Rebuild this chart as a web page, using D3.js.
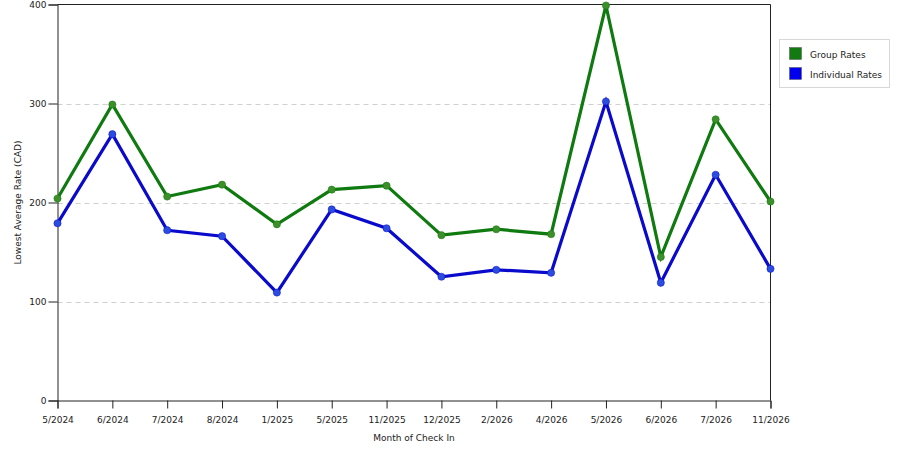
<!DOCTYPE html>
<html><head><meta charset="utf-8">
<script src="https://cdn.jsdelivr.net/npm/d3@7"></script>
<style>
body{margin:0;background:#fff;}
svg{display:block;font-family:"DejaVu Sans",Verdana,sans-serif;}
</style></head>
<body><svg id="c" width="900" height="450"></svg>
<script>
const categories = ["5/2024","6/2024","7/2024","8/2024","1/2025","5/2025","11/2025","12/2025","2/2026","4/2026","5/2026","6/2026","7/2026","11/2026"];
const groupRates = [204,299,206,218,178,213,217,167,173,168,399,145,284,201];
const individualRates = [179,269,172,166,109,193,174,125,132,129,302,119,228,133];
const yTicks = [0,100,200,300,400];
const seriesNames = ["Group Rates","Individual Rates"];

const svg = d3.select("#c");
const L=57.5, R=770.5, T=4.5, B=400.5;
const x = d3.scalePoint().domain(categories).range([L,R]).padding(0);
const y = d3.scaleLinear().domain([0,400]).range([B,T]);

// gridlines
svg.append("g").selectAll("line").data(yTicks.filter(d=>d>0&&d<400)).join("line")
  .attr("x1",L).attr("x2",R).attr("y1",d=>Math.round(y(d))+0.5).attr("y2",d=>Math.round(y(d))+0.5)
  .attr("stroke","#d0d0d0").attr("stroke-dasharray","5,4").attr("stroke-width",1);

// frame top and right
svg.append("line").attr("x1",L).attr("x2",R).attr("y1",T).attr("y2",T).attr("stroke","#222");
svg.append("line").attr("x1",R).attr("x2",R).attr("y1",T).attr("y2",B).attr("stroke","#222");

// axes
const xa = svg.append("g").attr("transform",`translate(0,${B})`)
  .call(d3.axisBottom(x).tickSizeOuter(0).tickSize(8).tickPadding(8));
const ya = svg.append("g").attr("transform",`translate(${L},0)`)
  .call(d3.axisLeft(y).tickValues(yTicks).tickSizeOuter(0).tickSize(9).tickPadding(2));
[xa,ya].forEach(a=>{
  a.select(".domain").attr("stroke","#222");
  a.selectAll(".tick line").attr("stroke","#222");
  a.selectAll("text").attr("fill","#222").style("font-size","9px").style("font-family","'DejaVu Sans',Verdana,sans-serif");
});

// titles
svg.append("text").attr("x",414).attr("y",441).attr("text-anchor","middle")
  .style("font-size","9px").attr("fill","#222").text("Month of Check In");
svg.append("text").attr("transform",`translate(21,${(T+B)/2}) rotate(-90)`).attr("text-anchor","middle")
  .style("font-size","9px").attr("fill","#222").text("Lowest Average Rate (CAD)");

const series = [
  {name:seriesNames[0], values:groupRates, color:"#0f7a0f", marker:"#3d8f2a", swatch:"#117a11"},
  {name:seriesNames[1], values:individualRates, color:"#0a0acc", marker:"#2a4de0", swatch:"#0000ee"}
];
const line = d3.line().x((d,i)=>x(categories[i])).y(d=>y(d));
series.forEach(s=>{
  svg.append("path").datum(s.values).attr("d",line).attr("fill","none")
    .attr("stroke",s.color).attr("stroke-width",3.2).attr("stroke-linejoin","miter");
  svg.append("g").selectAll("circle").data(s.values).join("circle")
    .attr("cx",(d,i)=>x(categories[i])).attr("cy",d=>y(d)).attr("r",3.6)
    .attr("fill",s.marker).attr("stroke",s.color).attr("stroke-opacity",0.5).attr("stroke-width",1);
});

// legend
const lg = svg.append("g");
lg.append("rect").attr("x",779.5).attr("y",39.5).attr("width",110).attr("height",48)
  .attr("fill","#fff").attr("stroke","#d8d8d8");
series.forEach((s,i)=>{
  lg.append("rect").attr("x",789.5).attr("y",47.5+i*20).attr("width",12).attr("height",12)
    .attr("fill",s.swatch).attr("stroke","#555").attr("stroke-width",0.5);
  lg.append("text").attr("x",810).attr("y",57.5+i*20).style("font-size","9px").attr("fill","#222").text(s.name);
});
</script></body></html>
